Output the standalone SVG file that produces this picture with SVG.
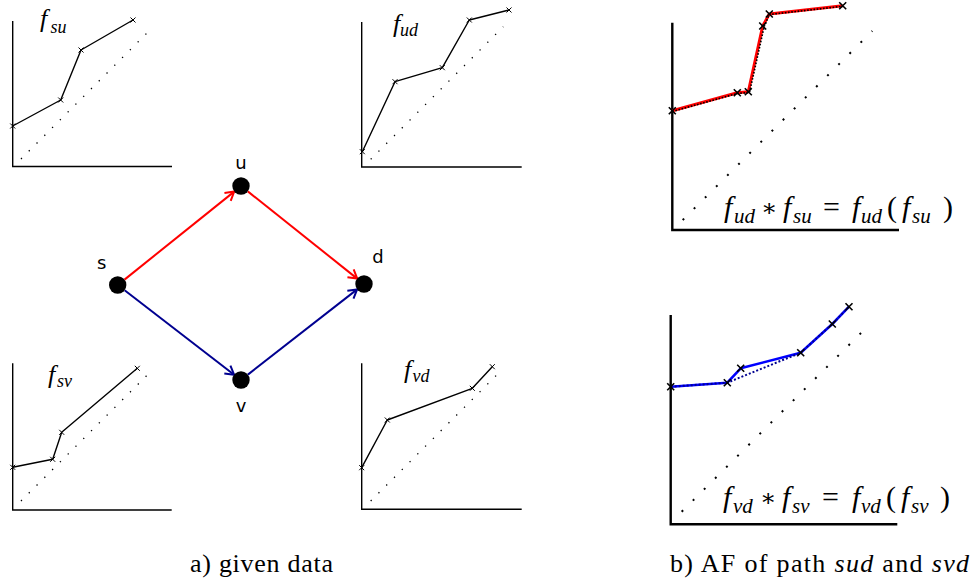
<svg xmlns="http://www.w3.org/2000/svg" width="972" height="582" viewBox="0 0 972 582">
<defs>
<style>
.ax{fill:none;stroke:#000;stroke-width:1.4}
.axb{fill:none;stroke:#000;stroke-width:2.4}
.pl{fill:none;stroke:#000;stroke-width:1.4;stroke-linejoin:round}
.dot{fill:none;stroke:#000;stroke-width:1.3;stroke-dasharray:1.3 9.7}
.dotb{fill:none;stroke:#000;stroke-width:2;stroke-dasharray:2 13.7}
.m{font-family:'Liberation Serif',serif;font-style:italic;font-size:26px;fill:#000}
.ms{font-family:'Liberation Serif',serif;font-style:italic;font-size:18px;fill:#000}
.M{font-family:'Liberation Serif',serif;font-style:italic;font-size:30px;fill:#000}
.Ms{font-family:'Liberation Serif',serif;font-style:italic;font-size:21px;fill:#000}
.Mr{font-family:'Liberation Serif',serif;font-size:30px;fill:#000}
.Ma{font-family:'DejaVu Serif',serif;font-size:24px;fill:#000}
.lbl{font-family:'DejaVu Sans',sans-serif;font-size:18px;fill:#000;text-anchor:middle}
.cap{font-family:'Liberation Serif',serif;font-size:26px;fill:#000}
.node{fill:#000}
.er{fill:none;stroke:#ff0000;stroke-width:2}
.eb{fill:none;stroke:#000090;stroke-width:2}
.xs{fill:none;stroke:#000;stroke-width:1}
.xb{fill:none;stroke:#000;stroke-width:1.6}
</style>
<marker id="ar" markerUnits="userSpaceOnUse" markerWidth="14" markerHeight="14" refX="0" refY="0" viewBox="-10 -7 12 14" orient="auto" overflow="visible">
<path d="M-8.5,-5 L0,0 L-8.5,5" fill="none" stroke="#ff0000" stroke-width="2"/>
</marker>
<marker id="ab" markerUnits="userSpaceOnUse" markerWidth="14" markerHeight="14" refX="0" refY="0" viewBox="-10 -7 12 14" orient="auto" overflow="visible">
<path d="M-8.5,-5 L0,0 L-8.5,5" fill="none" stroke="#000090" stroke-width="2"/>
</marker>
<path id="xsm" d="M-2.5,-2.5 L2.5,2.5 M-2.5,2.5 L2.5,-2.5"/>
<path id="xbg" d="M-3.5,-3.5 L3.5,3.5 M-3.5,3.5 L3.5,-3.5"/>
</defs>
<rect width="972" height="582" fill="#fff"/>

<g id="plot-fsu">
<path class="ax" d="M12.7,21 V166.5 H172"/>
<line class="dot" x1="21" y1="159" x2="153" y2="27"/>
<polyline class="pl" points="12.7,126 60.7,100 81,50 133,20"/>
<g class="xs"><use href="#xsm" x="12.7" y="126"/><use href="#xsm" x="60.7" y="100"/><use href="#xsm" x="81" y="50"/><use href="#xsm" x="133" y="20"/></g>
<text class="m" x="40" y="27">f</text><text class="ms" x="50.5" y="32.5">su</text>
</g>

<g id="plot-fud">
<path class="ax" d="M361.7,22 V167 H521.7"/>
<line class="dot" x1="370.7" y1="159.3" x2="503.3" y2="26.7"/>
<polyline class="pl" points="362.3,151.7 395,81.7 442.3,67.7 469.3,20 509,10"/>
<g class="xs"><use href="#xsm" x="362.3" y="151.7"/><use href="#xsm" x="395" y="81.7"/><use href="#xsm" x="442.3" y="67.7"/><use href="#xsm" x="469.3" y="20"/><use href="#xsm" x="509" y="10"/></g>
<text class="m" x="393" y="32">f</text><text class="ms" x="400" y="36">ud</text>
</g>

<g id="plot-fsv">
<path class="ax" d="M12.7,363.3 V510 H171.7"/>
<line class="dot" x1="21" y1="501" x2="153.3" y2="369"/>
<polyline class="pl" points="12.7,467.3 52.7,459.3 61.7,432.3 137.3,368.3"/>
<g class="xs"><use href="#xsm" x="12.7" y="467.3"/><use href="#xsm" x="52.7" y="459.3"/><use href="#xsm" x="61.7" y="432.3"/><use href="#xsm" x="137.3" y="368.3"/></g>
<text class="m" x="48" y="383">f</text><text class="ms" x="57" y="387">sv</text>
</g>

<g id="plot-fvd">
<path class="ax" d="M361.7,363.3 V509.3 H521.7"/>
<line class="dot" x1="370.7" y1="501" x2="502.7" y2="369"/>
<polyline class="pl" points="361.7,467.7 387.3,420 472.3,388.3 492.3,366.7"/>
<g class="xs"><use href="#xsm" x="361.7" y="467.7"/><use href="#xsm" x="387.3" y="420"/><use href="#xsm" x="472.3" y="388.3"/><use href="#xsm" x="492.3" y="366.7"/></g>
<text class="m" x="404" y="378">f</text><text class="ms" x="412.5" y="382">vd</text>
</g>

<g id="connectors">
<line class="er" x1="124.5" y1="279.6" x2="234.2" y2="191.6" marker-end="url(#ar)"/>
<line class="er" x1="247.8" y1="191.4" x2="357.2" y2="278.6" marker-end="url(#ar)"/>
<line class="eb" x1="124.6" y1="290.3" x2="234.1" y2="374.7" marker-end="url(#ab)"/>
<line class="eb" x1="247.9" y1="374.6" x2="357.1" y2="289.4" marker-end="url(#ab)"/>
</g>

<g id="node-s"><circle class="node" cx="117.7" cy="285" r="8.7"/><text class="lbl" x="101.7" y="269">s</text></g>
<g id="node-u"><circle class="node" cx="241" cy="186" r="8.7"/><text class="lbl" x="241" y="169">u</text></g>
<g id="node-d"><circle class="node" cx="364" cy="284" r="8.7"/><text class="lbl" x="378" y="262.5">d</text></g>
<g id="node-v"><circle class="node" cx="241" cy="380" r="8.7"/><text class="lbl" x="241" y="411.5">v</text></g>

<g id="plot-sud">
<path class="axb" d="M672.3,22.7 V230 H899"/>
<line class="dotb" x1="682.7" y1="220" x2="872.3" y2="31"/>
<polyline fill="none" stroke="#ff0000" stroke-width="3" stroke-linejoin="round" points="672.3,110.7 737.3,92.7 748.3,91.7 762.7,26 769.3,14 842.7,5.7"/>
<polyline fill="none" stroke="#000" stroke-width="1.6" stroke-dasharray="1.6 1.6" points="672.3,111.5 737.3,93.5 749.5,92.5 764.2,26.5 769.3,14.5 842.7,6.3"/>
<g class="xb"><use href="#xbg" x="672.3" y="110.7"/><use href="#xbg" x="737.3" y="92.7"/><use href="#xbg" x="748.3" y="91.7"/><use href="#xbg" x="762.7" y="26"/><use href="#xbg" x="769.3" y="14"/><use href="#xbg" x="842.7" y="5.7"/></g>
<text class="M" x="724" y="217">f</text><text class="Ms" x="734" y="223">ud</text>
<text class="Ma" x="761" y="216">∗</text>
<text class="M" x="783" y="217">f</text><text class="Ms" x="793" y="223">su</text>
<text class="Mr" x="823" y="217">=</text>
<text class="M" x="852" y="217">f</text><text class="Ms" x="861" y="223">ud</text>
<text class="Mr" x="887" y="217">(</text>
<text class="M" x="902" y="217">f</text><text class="Ms" x="912" y="223">su</text>
<text class="Mr" x="943" y="217">)</text>
</g>

<g id="plot-svd">
<path class="axb" d="M670.7,315 V524.3 H897.3"/>
<line class="dotb" x1="681.7" y1="511.7" x2="870.7" y2="323.3"/>
<polyline fill="none" stroke="#0000ff" stroke-width="2.6" stroke-linejoin="round" points="670.7,386.7 727.3,382.7 740.7,368.3 800.7,352.7 832.3,324 849,306.7"/>
<polyline fill="none" stroke="#000090" stroke-width="2" stroke-dasharray="2 2" points="670.7,386.7 727.3,382.7 800.7,352.7 832.3,324 849,306.7"/>
<g class="xb"><use href="#xbg" x="670.7" y="386.7"/><use href="#xbg" x="727.3" y="382.7"/><use href="#xbg" x="740.7" y="368.3"/><use href="#xbg" x="800.7" y="352.7"/><use href="#xbg" x="832.3" y="324"/><use href="#xbg" x="849" y="306.7"/></g>
<text class="M" x="723" y="507">f</text><text class="Ms" x="733" y="513">vd</text>
<text class="Ma" x="760" y="506">∗</text>
<text class="M" x="782" y="507">f</text><text class="Ms" x="792" y="513">sv</text>
<text class="Mr" x="822" y="507">=</text>
<text class="M" x="852" y="507">f</text><text class="Ms" x="861" y="513">vd</text>
<text class="Mr" x="886" y="507">(</text>
<text class="M" x="901" y="507">f</text><text class="Ms" x="911" y="513">sv</text>
<text class="Mr" x="940" y="507">)</text>
</g>

<g id="captions">
<text class="cap" x="190" y="572" textLength="143" lengthAdjust="spacing">a) given data</text>
<text class="cap" x="670" y="572" textLength="299" lengthAdjust="spacing">b) AF of path <tspan font-style="italic">sud</tspan> and <tspan font-style="italic">svd</tspan></text>
</g>
</svg>
